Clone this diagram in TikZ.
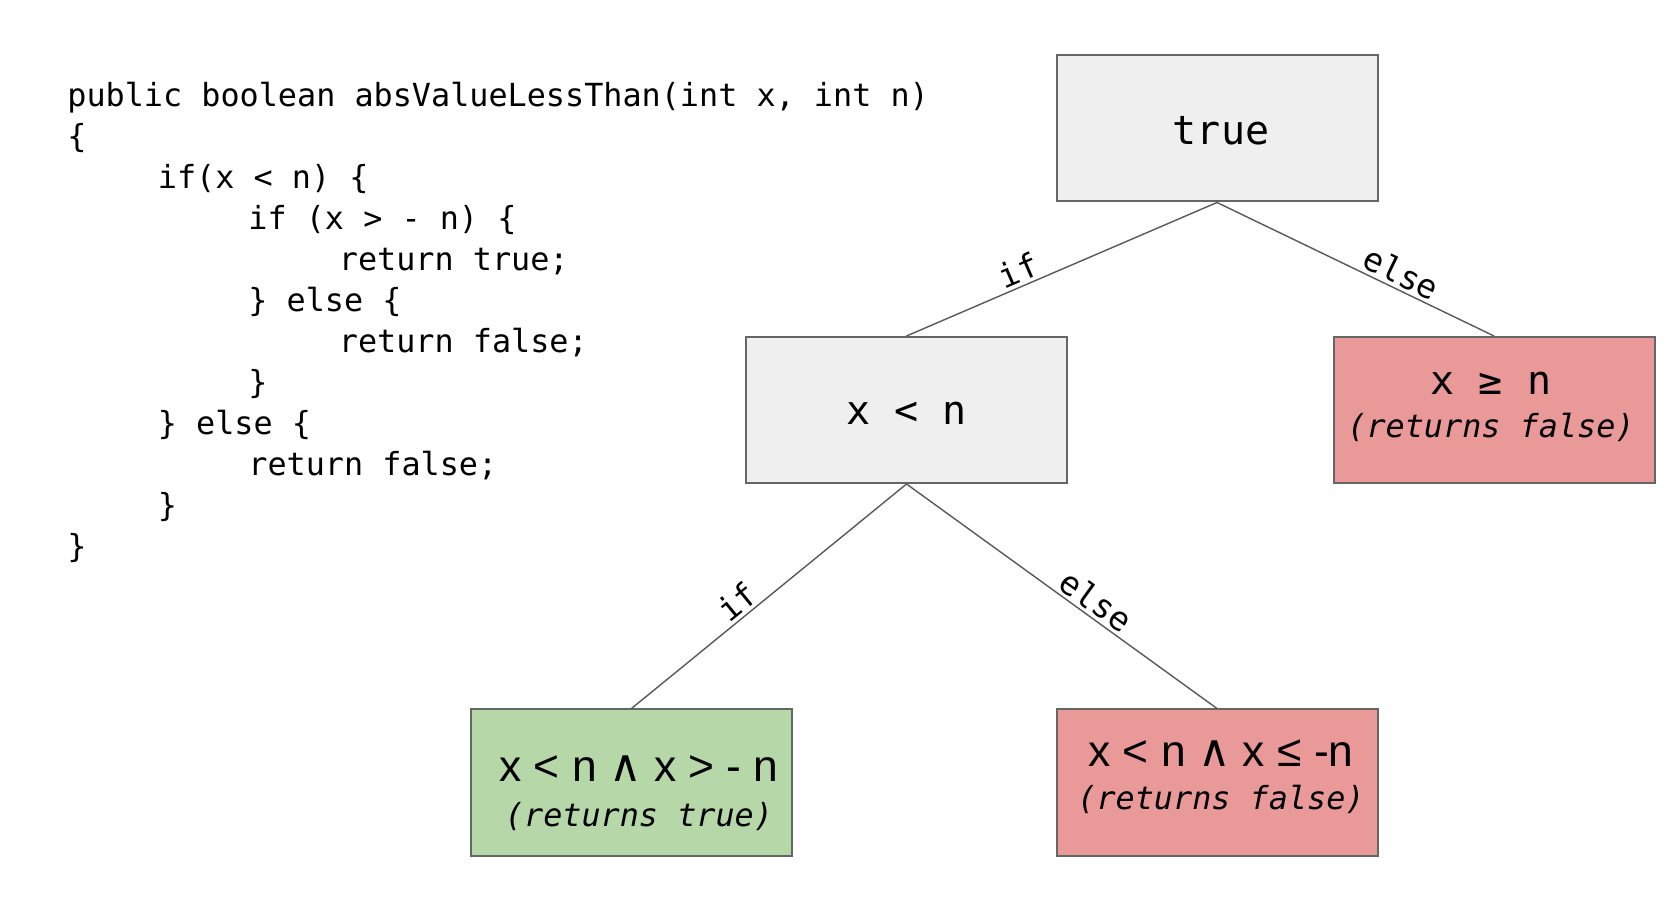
\documentclass[tikz,border=0pt]{standalone}
\usepackage{fontspec}
\newfontfamily\codefont{DejaVu Sans Mono}
\newfontfamily\exprfont{Liberation Sans}
\newfontfamily\wedgefont{DejaVu Sans}
\definecolor{boxgray}{HTML}{EFEFEF}
\definecolor{boxgreen}{HTML}{B6D7A8}
\definecolor{boxred}{HTML}{EA9999}
\definecolor{edgegray}{HTML}{595959}
\definecolor{bordergray}{HTML}{666666}
\begin{document}
\begin{tikzpicture}[x=0.5pt,y=-0.5pt,
  codeline/.style={anchor=base west, inner sep=0pt, font=\codefont\fontsize{15.9}{20}\selectfont},
  box/.style={draw=bordergray, line width=1pt, minimum width=160.5pt, minimum height=73pt, inner sep=0pt},
  boxtxt/.style={anchor=base, inner sep=0pt},
  bigmono/.style={font=\codefont\fontsize{20}{24}\selectfont},
  smallit/.style={font=\codefont\itshape\fontsize{15.9}{19}\selectfont},
  expr/.style={font=\exprfont\fontsize{22.2}{26}\selectfont},
  edge/.style={draw=edgegray, line width=0.7pt},
  edgelabel/.style={sloped, above, inner sep=1.5pt, font=\codefont\fontsize{16.5}{20}\selectfont}
]
\fill[white] (0,0) rectangle (1678,898);
\useasboundingbox (0,0) rectangle (1678,898);

% code
\node[codeline] (c1) at (67,107) {public boolean absValueLessThan(int x, int n)};
\node[codeline] (c2) at (67,148) {\{};
\node[codeline] (c3) at (157.5,189) {if(x < n) \{};
\node[codeline] (c4) at (248,230) {if (x > - n) \{};
\node[codeline] (c5) at (338.5,271) {return true;};
\node[codeline] (c6) at (248,312) {\} else \{};
\node[codeline] (c7) at (338.5,353) {return false;};
\node[codeline] (c8) at (248,394) {\}};
\node[codeline] (c9) at (157.5,435) {\} else \{};
\node[codeline] (c10) at (248,476) {return false;};
\node[codeline] (c11) at (157.5,517) {\}};
\node[codeline] (c12) at (67,558) {\}};

% boxes
\node[box, fill=boxgray] (top) at (1217,128.5) {};
\node[box, fill=boxgray] (mid) at (906.5,410) {};
\node[box, fill=boxred] (geq) at (1494,410) {};
\node[box, fill=boxgreen] (yes) at (631.5,782.5) {};
\node[box, fill=boxred] (no) at (1217,782.5) {};

% box texts
\node[boxtxt, bigmono] (toptxt) at (1221,145) {true};
\node[boxtxt, bigmono] (midtxt) at (906.5,425) {x < n};
\node[boxtxt, bigmono] (geqtxt) at (1491,395) {x ≥ n};
\node[boxtxt, smallit] (geqret) at (1491,438) {(returns false)};
\node[boxtxt, expr] (yestxt) at (639,781.5) {x < n {\wedgefont ∧} x > - n};
\node[boxtxt, smallit] (yesret) at (639,826.5) {(returns true)};
\node[boxtxt, expr] (notxt) at (1221,766.5) {x < n {\wedgefont ∧} x ≤ -n};
\node[boxtxt, smallit] (noret) at (1221,810) {(returns false)};

% edges
\draw[edge] (top.south) -- node[edgelabel, pos=0.62] (l1) {if} (mid.north);
\draw[edge] (top.south) -- node[edgelabel, pos=0.64] (l2) {else} (geq.north);
\draw[edge] (mid.south) -- node[edgelabel, pos=0.58] (l3) {if} (yes.north);
\draw[edge] (mid.south) -- node[edgelabel, pos=0.58] (l4) {else} (no.north);
\end{tikzpicture}
\end{document}
